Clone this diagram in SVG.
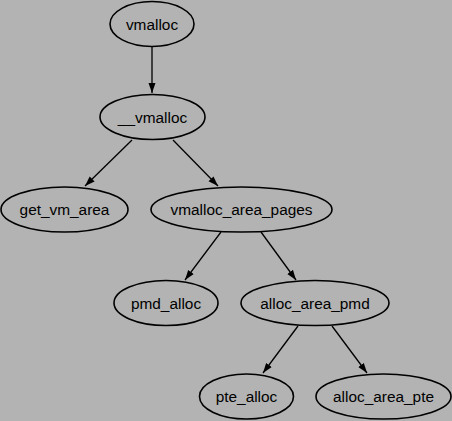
<svg xmlns="http://www.w3.org/2000/svg" width="452" height="421" viewBox="0 0 452 421">
<defs>
<marker id="ah" viewBox="0 0 10 10" refX="10" refY="5" markerWidth="10" markerHeight="10" markerUnits="userSpaceOnUse" orient="auto">
<path d="M0,1.5 L10,5 L0,8.5 Z" fill="#000"/>
</marker>
</defs>
<style>
.n ellipse{fill:#b3b3b3;stroke:#000;stroke-width:1.6}
.n text{font-family:"Liberation Sans",Arial,sans-serif;font-size:15.4px;fill:#000;text-anchor:middle}
.e path{fill:none;stroke:#000;stroke-width:1.3;marker-end:url(#ah)}
</style>
<rect width="452" height="421" fill="#b3b3b3"/>
<g class="e" id="edges">
<path d="M152,47 L152,93"/>
<path d="M132,140 L85,186"/>
<path d="M173,140 L218,186"/>
<path d="M221,232 L185,280"/>
<path d="M261,232 L296,280"/>
<path d="M298,326 L263,373"/>
<path d="M332,326 L367,373"/>
</g>
<g class="n" id="vmalloc"><ellipse cx="152" cy="24" rx="42" ry="22.5"/><text x="152" y="29.5">vmalloc</text></g>
<g class="n" id="__vmalloc"><ellipse cx="152.5" cy="117" rx="52.5" ry="22.5"/><text x="152.5" y="122.5">__vmalloc</text></g>
<g class="n" id="get_vm_area"><ellipse cx="64.5" cy="209.5" rx="63.5" ry="22.5"/><text x="64.5" y="215">get_vm_area</text></g>
<g class="n" id="vmalloc_area_pages"><ellipse cx="241.5" cy="209.5" rx="90.5" ry="22.5"/><text x="241.5" y="215">vmalloc_area_pages</text></g>
<g class="n" id="pmd_alloc"><ellipse cx="166" cy="303" rx="52" ry="22.5"/><text x="166" y="308.5">pmd_alloc</text></g>
<g class="n" id="alloc_area_pmd"><ellipse cx="315" cy="303" rx="74" ry="22.5"/><text x="315" y="308.5">alloc_area_pmd</text></g>
<g class="n" id="pte_alloc"><ellipse cx="246.5" cy="396.5" rx="47" ry="22.5"/><text x="246.5" y="402">pte_alloc</text></g>
<g class="n" id="alloc_area_pte"><ellipse cx="383.5" cy="396.5" rx="67.5" ry="22.5"/><text x="383.5" y="402">alloc_area_pte</text></g>
</svg>
